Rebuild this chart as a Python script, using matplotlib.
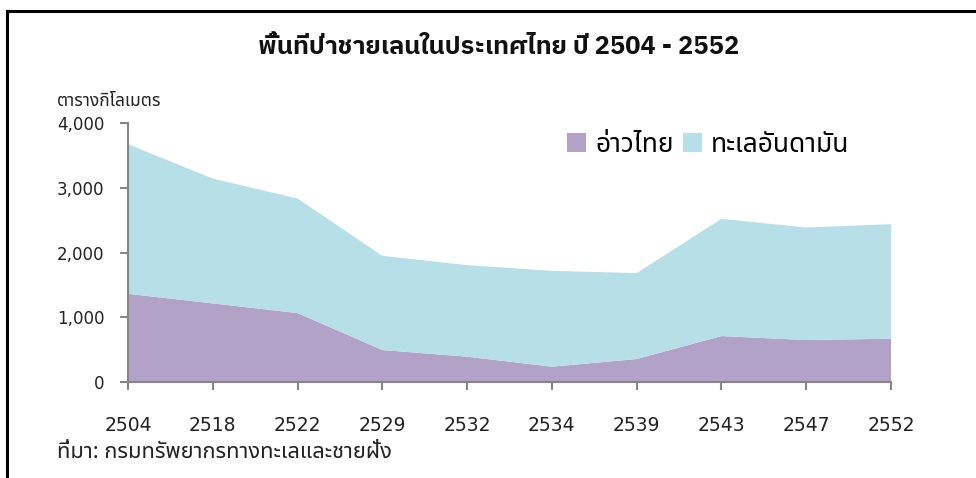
import matplotlib
matplotlib.use("Agg")
import matplotlib.pyplot as plt
from matplotlib import font_manager as fm
from matplotlib.patches import Patch, Rectangle

years = ["2504", "2518", "2522", "2529", "2532", "2534", "2539", "2543", "2547", "2552"]
gulf_of_thailand = [1365, 1217, 1068, 498, 395, 241, 359, 713, 652, 672]
andaman_sea = [2307, 1926, 1767, 1453, 1412, 1479, 1325, 1808, 1736, 1767]
series_names = ["อ่าวไทย", "ทะเลอันดามัน"]
title = "พื้นที่ป่าชายเลนในประเทศไทย ปี 2504 - 2552"
y_unit = "ตารางกิโลเมตร"
source = "ที่มา: กรมทรัพยากรทางทะเลและชายฝั่ง"
yticks = [0, 1000, 2000, 3000, 4000]

fl = fm.fontManager.ttflist
names = set(f.name for f in fl)
pref = ["Noto Sans Thai", "Noto Sans Thai UI", "IBM Plex Sans Thai", "Anuphan", "Sarabun"]
thai_pref = [n for n in pref if n in names]
fam = thai_pref + ["DejaVu Sans"]
bold_fam = [n for n in pref if any(f.name == n and (f.weight in ("bold", 700) or (isinstance(f.weight, int) and f.weight >= 700)) for f in fl)]
bold_fam = bold_fam[:1] + ["DejaVu Sans"]
plt.rcParams["font.family"] = fam

W, H = 976, 478
fig = plt.figure(figsize=(W / 100, H / 100), dpi=100)
ax = fig.add_axes([128 / W, 1 - 382.3 / H, (891 - 128) / W, (382.3 - 123) / H])

x = list(range(len(years)))
c_gulf = "#B3A2C7"
c_and = "#B7DFE8"
ax.stackplot(x, gulf_of_thailand, andaman_sea, colors=[c_gulf, c_and], linewidth=0)
ax.set_xlim(0, len(years) - 1)
ax.set_ylim(0, 4000)
ax.set_yticks(yticks)
ax.set_yticklabels([f"{v:,}" for v in yticks], fontfamily="DejaVu Sans", fontsize=12, color="#222222")
ax.set_xticks(x)
ax.set_xticklabels(years, fontfamily="DejaVu Sans", fontsize=13.5, color="#222222")
for s in ["top", "right"]:
    ax.spines[s].set_visible(False)
for s in ["left", "bottom"]:
    ax.spines[s].set_color("#868686")
    ax.spines[s].set_linewidth(1.5)
ax.tick_params(axis="y", direction="out", length=6, width=1.5, color="#868686", pad=11)
ax.tick_params(axis="x", direction="out", length=6, width=1.5, color="#868686", pad=18)

fig.text(499 / W, 1 - 47 / H, title, ha="center", va="center", fontsize=18.3, fontweight="bold",
         fontfamily=bold_fam, color="#111111")
fig.text(57 / W, 1 - 101 / H, y_unit, ha="left", va="center", fontsize=12.5, color="#222222")
fig.text(57 / W, 1 - 453 / H, source, ha="left", va="center", fontsize=15.7, color="#222222")

handles = [Patch(facecolor=c_gulf, edgecolor="none"), Patch(facecolor=c_and, edgecolor="none")]
fig.legend(handles, series_names, loc="upper left", bbox_to_anchor=(567 / W, 1 - 131 / H), ncol=2,
           frameon=False, fontsize=19, handlelength=0.72, handleheight=0.72, handletextpad=0.35,
           columnspacing=0.35, borderpad=0, borderaxespad=0)

fig.add_artist(Rectangle((6.5 / W, -0.1), 1.2, 1.1 - 11 / H, transform=fig.transFigure,
                         fill=False, edgecolor="black", linewidth=2.2, clip_on=False))

fig.savefig("out.png", dpi=100)
